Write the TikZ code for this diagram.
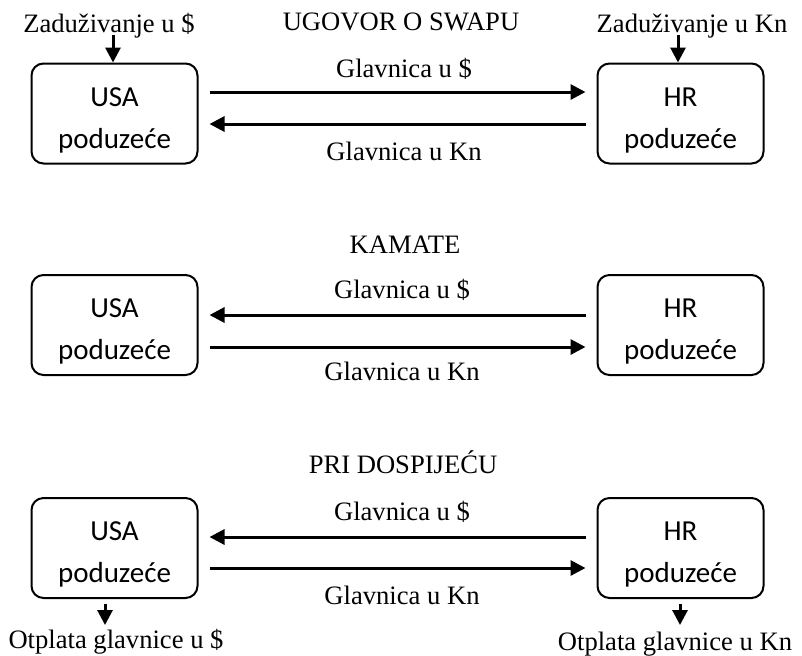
\documentclass[tikz,border=0pt]{standalone}
\usepackage{fontspec}
\setmainfont{Liberation Serif}
\newfontfamily\calibrifont{Carlito}
\usetikzlibrary{arrows.meta}

\newcommand{\firmlabel}[1]{\rule{0pt}{16pt}#1\\poduzeće}

\begin{document}
\begin{tikzpicture}[x=0.5pt, y=-0.5pt,
        firm/.style={draw, rounded corners=6pt, line width=1pt, minimum width=83pt, minimum height=50pt,
            align=center, font=\calibrifont\fontsize{14.5}{21}\selectfont},
        lbl/.style={anchor=base, inner sep=0pt, font=\fontsize{13.3}{16}\selectfont},
        flow/.style={-{Triangle[length=7.5pt, width=7.5pt]}, line width=1.5pt},
        apart/.style={shorten <=5.5pt, shorten >=5.5pt}]
    \useasboundingbox (0,0) rectangle (802,655);

    % ugovor o swapu
    \node[lbl] at (401,30)   (title1) {UGOVOR O SWAPU};
    \node[lbl] at (109,32)   (zadusd) {Zaduživanje u \$};
    \node[lbl] at (692,32)   (zadkn)  {Zaduživanje u Kn};
    \node[firm] at (114.5,113.5) (usa1) {\firmlabel{USA}};
    \node[firm] at (680.5,113.5) (hr1)  {\firmlabel{HR}};
    \node[lbl] at (404,77)   (g1usd) {Glavnica u \$};
    \node[lbl] at (404,160)  (g1kn)  {Glavnica u Kn};
    \coordinate (z1) at (113,35);
    \coordinate (z2) at (678,35);

    \draw [flow] (z1) -- (z1 |- usa1.north);
    \draw [flow] (z2) -- (z2 |- hr1.north);
    \draw [flow, apart] ([yshift=10.75pt]usa1.east) -- ([yshift=10.75pt]hr1.west);
    \draw [flow, apart] ([yshift=-5.25pt]hr1.west) -- ([yshift=-5.25pt]usa1.east);

    % kamate
    \node[lbl] at (405,253)  (title2) {KAMATE};
    \node[firm] at (114.5,325) (usa2) {\firmlabel{USA}};
    \node[firm] at (680.5,325) (hr2)  {\firmlabel{HR}};
    \node[lbl] at (402,298)  (g2usd) {Glavnica u \$};
    \node[lbl] at (402,380)  (g2kn)  {Glavnica u Kn};

    \draw [flow, apart] ([yshift=5pt]hr2.west) -- ([yshift=5pt]usa2.east);
    \draw [flow, apart] ([yshift=-11pt]usa2.east) -- ([yshift=-11pt]hr2.west);

    % pri dospijecu
    \node[lbl] at (403,473)  (title3) {PRI DOSPIJEĆU};
    \node[firm] at (114.5,548) (usa3) {\firmlabel{USA}};
    \node[firm] at (680.5,548) (hr3)  {\firmlabel{HR}};
    \node[lbl] at (402,520)  (g3usd) {Glavnica u \$};
    \node[lbl] at (402,604)  (g3kn)  {Glavnica u Kn};
    \node[lbl] at (116,648)  (otpusd) {Otplata glavnice u \$};
    \node[lbl] at (675,650)  (otpkn)  {Otplata glavnice u Kn};
    \coordinate (o1) at (105,625);
    \coordinate (o2) at (680,625);

    \draw [flow, apart] ([yshift=5.5pt]hr3.west) -- ([yshift=5.5pt]usa3.east);
    \draw [flow, apart] ([yshift=-10pt]usa3.east) -- ([yshift=-10pt]hr3.west);
    \draw [flow, shorten <=2.5pt] (usa3.south -| o1) -- (o1);
    \draw [flow, shorten <=2.5pt] (hr3.south -| o2) -- (o2);
\end{tikzpicture}
\end{document}
